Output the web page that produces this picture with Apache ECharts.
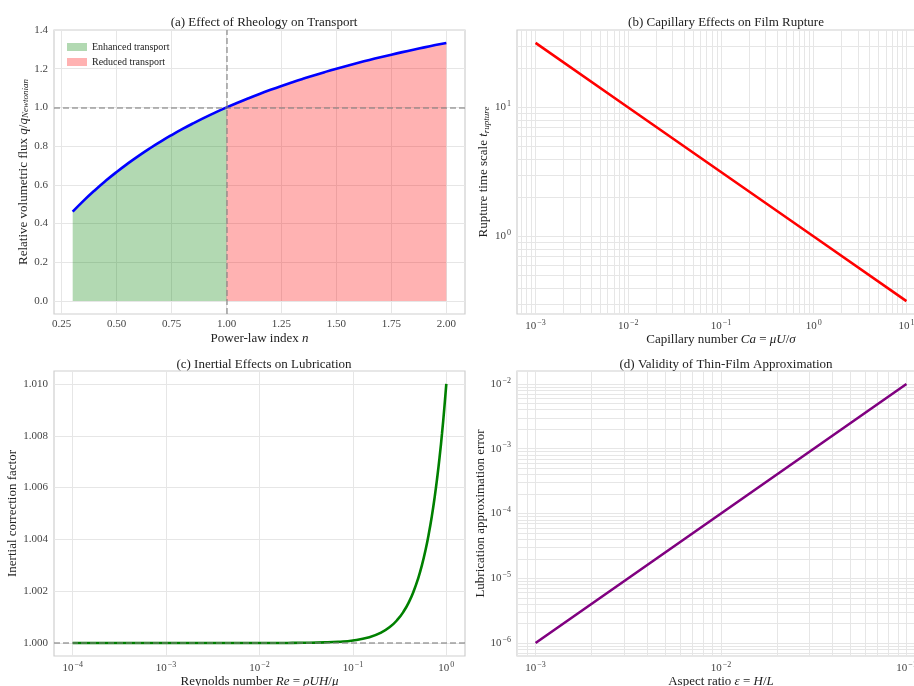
<!DOCTYPE html>
<html><head><meta charset="utf-8">
<script src="https://cdn.jsdelivr.net/npm/echarts@6/dist/echarts.min.js"></script>
<style>html,body{margin:0;padding:0;background:#fff}#c{width:914px;height:686px}</style>
</head><body><div id="c"></div>
<script>
// ---------- data ----------
// (a) power-law index vs relative flux
const nIndex = [0.30,0.35,0.40,0.45,0.50,0.55,0.60,0.65,0.70,0.75,0.80,0.85,0.90,0.95,1.00,1.05,1.10,1.15,1.20,1.25,1.30,1.35,1.40,1.45,1.50,1.55,1.60,1.65,1.70,1.75,1.80,1.85,1.90,1.95,2.00];
const relFlux = [0.4615,0.5185,0.5714,0.6207,0.6667,0.7097,0.7500,0.7879,0.8235,0.8571,0.8889,0.9189,0.9474,0.9744,1.0000,1.0244,1.0476,1.0698,1.0909,1.1111,1.1304,1.1489,1.1667,1.1837,1.2000,1.2157,1.2308,1.2453,1.2593,1.2727,1.2857,1.2982,1.3103,1.3220,1.3333];
const aXTicks = [0.25,0.50,0.75,1.00,1.25,1.50,1.75,2.00];
const aYTicks = [0.0,0.2,0.4,0.6,0.8,1.0,1.2,1.4];
// (b) capillary number vs rupture time
const capNum = [0.001,0.01,0.1,1,10];
const ruptureT = [31.62,10.0,3.162,1.0,0.3162];
const bXLabels = [0.001,0.01,0.1,1,10];
const bYLabels = [1,10];
// (c) Reynolds number vs inertial correction
const reNum = [0.0001,0.001,0.01,0.02,0.03,0.05,0.07,0.1,0.15,0.2,0.25,0.3,0.35,0.4,0.45,0.5,0.55,0.6,0.65,0.7,0.75,0.8,0.85,0.9,0.95,1.0];
const inertCorr = [1.0000,1.0000,1.000001,1.000004,1.000009,1.000025,1.000049,1.0001,1.000225,1.0004,1.000625,1.0009,1.001225,1.0016,1.002025,1.0025,1.003025,1.0036,1.004225,1.0049,1.005625,1.0064,1.007225,1.0081,1.009025,1.0100];
const cXLabels = [0.0001,0.001,0.01,0.1,1];
const cYTicks = [1.000,1.002,1.004,1.006,1.008,1.010];
// (d) aspect ratio vs lubrication error
const aspect = [0.001,0.01,0.1];
const lubErr = [0.000001,0.0001,0.01];
const dXLabels = [0.001,0.01,0.1];
const dYLabels = [0.000001,0.00001,0.0001,0.001,0.01];

// ---------- helpers ----------
const FF = '"Liberation Serif","DejaVu Serif",serif';
const LC = '#444';
const GRIDC = '#e6e6e6';
function logGrid(lo, hi){
  const out=[];
  for(let k=Math.floor(Math.log10(lo));k<=Math.ceil(Math.log10(hi));k++){
    for(let m=1;m<=9;m++){const v=Number((m*Math.pow(10,k)).toPrecision(6)); if(v>=lo&&v<=hi) out.push(v);}
  }
  return out;
}
function supLabel(v){
  const e=Math.round(Math.log10(v));
  return '{b|10}{s|'+(e<0?'\u2212'+(-e):e)+'}';
}
const supRich = {b:{fontSize:11,fontFamily:FF,color:LC}, s:{fontSize:8,fontFamily:FF,color:LC,padding:[0,0,7,1]}};
const nameRich = {t:{fontSize:13,fontFamily:FF,color:'#222'}, i:{fontSize:13,fontFamily:FF,fontStyle:'italic',color:'#222'}, sub:{fontSize:9,fontFamily:FF,fontStyle:'italic',color:'#222',padding:[5,0,0,0]}};
function valAxis(grid, opts){
  return Object.assign({
    gridIndex:grid, nameLocation:'middle',
    nameTextStyle:{rich:nameRich,fontFamily:FF,fontSize:13,color:'#222'},
    axisLine:{show:false}, axisTick:{show:false},
    splitLine:{show:true,lineStyle:{color:GRIDC,width:1}},
    axisLabel:{fontFamily:FF,fontSize:11,color:LC,margin:5}
  }, opts);
}
const gridStyle = {show:true,borderColor:'#cfcfcf',borderWidth:1.2,backgroundColor:'#fff',containLabel:false,outerBoundsMode:'none'};
const dashGrey = {color:'rgba(128,128,128,0.75)',type:[6,3],width:1.5};

const pairs = (xs,ys)=>xs.map((x,i)=>[x,ys[i]]);
const green = 'rgba(0,128,0,0.3)', red='rgba(255,0,0,0.3)';

const option = {
  animation:false,
  backgroundColor:'#fff',
  title:[
    {text:'(a) Effect of Rheology on Transport',left:259,top:11,textAlign:'center',textStyle:{fontFamily:FF,fontSize:13,fontWeight:'normal',color:'#222'}},
    {text:'(b) Capillary Effects on Film Rupture',left:721,top:11,textAlign:'center',textStyle:{fontFamily:FF,fontSize:13,fontWeight:'normal',color:'#222'}},
    {text:'(c) Inertial Effects on Lubrication',left:259,top:353,textAlign:'center',textStyle:{fontFamily:FF,fontSize:13,fontWeight:'normal',color:'#222'}},
    {text:'(d) Validity of Thin-Film Approximation',left:721,top:353,textAlign:'center',textStyle:{fontFamily:FF,fontSize:13,fontWeight:'normal',color:'#222'}}
  ],
  legend:{
    data:['Enhanced transport','Reduced transport'],
    orient:'vertical',left:62,top:37,itemWidth:20,itemHeight:8,itemGap:5,icon:'rect',
    textStyle:{fontFamily:FF,fontSize:10,color:'#222'}
  },
  grid:[
    Object.assign({left:54,top:30,width:411,height:284},gridStyle),
    Object.assign({left:517,top:30,width:408,height:284},gridStyle),
    Object.assign({left:54,top:371,width:411,height:285},gridStyle),
    Object.assign({left:517,top:371,width:408,height:285},gridStyle)
  ],
  xAxis:[
    valAxis(0,{type:'value',min:0.215,max:2.085,name:'{t|Power-law index }{i|n}',nameGap:18,
      axisTick:{show:false,customValues:aXTicks},
      axisLabel:{fontFamily:FF,fontSize:11,color:LC,margin:5,customValues:aXTicks,formatter:v=>v.toFixed(2)}}),
    valAxis(1,{type:'log',logBase:10,min:Math.pow(10,-3.2),max:Math.pow(10,1.2),name:'{t|Capillary number }{i|Ca}{t| = }{i|\u03bcU}{t|/}{i|\u03c3}',nameGap:19,
      axisTick:{show:false,customValues:logGrid(Math.pow(10,-3.2),Math.pow(10,1.2))},
      axisLabel:{margin:5,customValues:bXLabels,formatter:supLabel,rich:supRich}}),
    valAxis(2,{type:'log',logBase:10,min:Math.pow(10,-4.2),max:Math.pow(10,0.2),name:'{t|Reynolds number }{i|Re}{t| = }{i|\u03c1UH}{t|/}{i|\u03bc}',nameGap:19,
      axisTick:{show:false,customValues:cXLabels},
      axisLabel:{margin:5,customValues:cXLabels,formatter:supLabel,rich:supRich}}),
    valAxis(3,{type:'log',logBase:10,min:Math.pow(10,-3.1),max:Math.pow(10,-0.9),name:'{t|Aspect ratio }{i|\u03b5}{t| = }{i|H}{t|/}{i|L}',nameGap:19,
      axisTick:{show:false,customValues:logGrid(Math.pow(10,-3.1),Math.pow(10,-0.9))},
      axisLabel:{margin:5,customValues:dXLabels,formatter:supLabel,rich:supRich}})
  ],
  yAxis:[
    valAxis(0,{type:'value',min:-0.067,max:1.4,name:'{t|Relative volumetric flux }{i|q}{t|/}{i|q}{sub|Newtonian}',nameGap:21,
      axisTick:{show:false,customValues:aYTicks},
      axisLabel:{fontFamily:FF,fontSize:11,color:LC,margin:6,customValues:aYTicks,formatter:v=>v.toFixed(1)}}),
    valAxis(1,{type:'log',logBase:10,min:Math.pow(10,-0.6),max:Math.pow(10,1.6),name:'{t|Rupture time scale }{i|t}{sub|rupture}',nameGap:26,
      axisTick:{show:false,customValues:logGrid(Math.pow(10,-0.6),Math.pow(10,1.6))},
      axisLabel:{margin:6,customValues:bYLabels,formatter:supLabel,rich:supRich}}),
    valAxis(2,{type:'value',min:0.9995,max:1.0105,name:'Inertial correction factor',nameGap:30,
      axisTick:{show:false,customValues:cYTicks},
      axisLabel:{fontFamily:FF,fontSize:11,color:LC,margin:6,customValues:cYTicks,formatter:v=>v.toFixed(3)}}),
    valAxis(3,{type:'log',logBase:10,min:Math.pow(10,-6.2),max:Math.pow(10,-1.8),name:'Lubrication approximation error',nameGap:26,
      axisTick:{show:false,customValues:logGrid(Math.pow(10,-6.2),Math.pow(10,-1.8))},
      axisLabel:{margin:6,customValues:dYLabels,formatter:supLabel,rich:supRich}})
  ],
  series:[
    {name:'Enhanced transport',type:'line',xAxisIndex:0,yAxisIndex:0,symbol:'none',smooth:false,
      data:pairs(nIndex,relFlux).filter(p=>p[0]<=1),
      itemStyle:{color:green},lineStyle:{color:green,width:1},areaStyle:{color:green,opacity:1},z:2},
    {name:'Reduced transport',type:'line',xAxisIndex:0,yAxisIndex:0,symbol:'none',
      data:pairs(nIndex,relFlux).filter(p=>p[0]>=1),
      itemStyle:{color:red},lineStyle:{color:red,width:1},areaStyle:{color:red,opacity:1},z:2},
    {name:'flux',type:'line',xAxisIndex:0,yAxisIndex:0,symbol:'none',smooth:true,
      data:pairs(nIndex,relFlux),lineStyle:{color:'#0000ff',width:2.6},itemStyle:{color:'#0000ff'},z:4,
      markLine:{silent:true,symbol:'none',label:{show:false},lineStyle:dashGrey,data:[{xAxis:1},{yAxis:1}]}},
    {name:'rupture',type:'line',xAxisIndex:1,yAxisIndex:1,symbol:'none',
      data:pairs(capNum,ruptureT),lineStyle:{color:'#ff0000',width:2.6},itemStyle:{color:'#ff0000'},z:4},
    {name:'inertia',type:'line',xAxisIndex:2,yAxisIndex:2,symbol:'none',smooth:true,
      data:pairs(reNum,inertCorr),lineStyle:{color:'#008000',width:2.6},itemStyle:{color:'#008000'},z:4,
      markLine:{silent:true,symbol:'none',label:{show:false},lineStyle:dashGrey,z:6,data:[{yAxis:1}]}},
    {name:'lubrication',type:'line',xAxisIndex:3,yAxisIndex:3,symbol:'none',
      data:pairs(aspect,lubErr),lineStyle:{color:'#800080',width:2.6},itemStyle:{color:'#800080'},z:4}
  ]
};
const chart = echarts.init(document.getElementById('c'),null,{renderer:'canvas'});
chart.setOption(option);
</script></body></html>
